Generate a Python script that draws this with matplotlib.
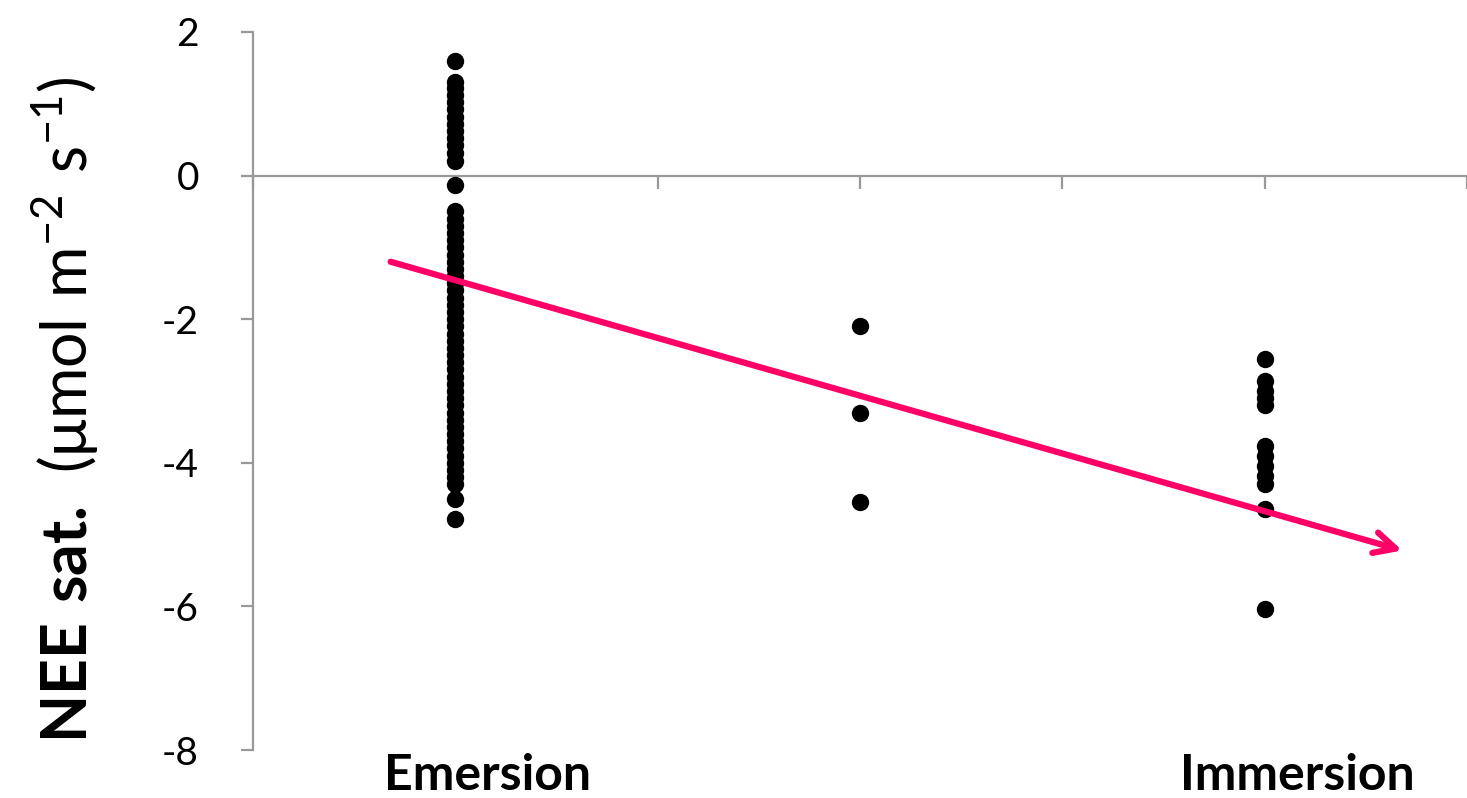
import matplotlib
matplotlib.use('Agg')
import matplotlib.pyplot as plt
import matplotlib.transforms as mtransforms

plt.rcParams['font.family'] = ['Lato', 'DejaVu Sans']
plt.rcParams['mathtext.fontset'] = 'custom'
plt.rcParams['mathtext.rm'] = 'Lato'
plt.rcParams['mathtext.bf'] = 'Lato:bold'

# NEE at saturating light, per tidal condition (x = 1 emersion, 2 mid, 3 immersion)
emersion = [1.6, 1.3, 1.22, 1.12, 1.02, 0.92, 0.82, 0.72, 0.62, 0.52, 0.42, 0.32, 0.2,
            -0.13, -0.5, -0.6, -0.7, -0.8, -0.9, -1.0, -1.1, -1.2, -1.3, -1.4, -1.5,
            -1.6, -1.7, -1.8, -1.9, -2.0, -2.1, -2.2, -2.3, -2.4, -2.5, -2.6, -2.7,
            -2.8, -2.9, -3.0, -3.1, -3.2, -3.3, -3.4, -3.5, -3.6, -3.7, -3.8, -3.9,
            -4.0, -4.1, -4.2, -4.3, -4.5, -4.78]
middle = [-2.1, -3.3, -4.55]
immersion = [-2.56, -2.86, -3.0, -3.1, -3.2, -3.76, -3.9, -4.05, -4.18, -4.3,
             -4.64, -6.03]
group_x = [1, 2, 3]
group_labels = ['Emersion', 'Immersion']
label_x = [1.08, 3.08]

# trend arrow, start and end in data units
arrow_start = (0.84, -1.2)
arrow_end = (3.34, -5.22)

fig = plt.figure(figsize=(14.67, 7.98), dpi=100)
ax = fig.add_axes([0.1725, 0.06, 0.8275, 0.9])

for xv, vals in zip(group_x, [emersion, middle, immersion]):
    ax.plot([xv] * len(vals), vals, 'o', color='black', ms=12.5, mec='none', zorder=3)

ax.annotate('', xy=arrow_end, xytext=arrow_start,
            arrowprops=dict(arrowstyle='->', color='#FF0066', lw=4.5,
                            mutation_scale=38, shrinkA=0, shrinkB=0),
            zorder=4)

ax.set_xlim(0.5, 3.5)
ax.set_ylim(-8, 2)
ax.set_yticks([2, 0, -2, -4, -6, -8])
ax.set_yticklabels(['2', '0', '-2', '-4', '-6', '-8'], fontsize=28)
ax.set_xticks([0.5, 1, 1.5, 2, 2.5, 3, 3.5])
ax.set_xticklabels([])

grey = '#999999'
ax.spines['top'].set_visible(False)
ax.spines['right'].set_visible(False)
ax.spines['bottom'].set_position(('data', 0))
ax.spines['bottom'].set_color(grey)
ax.spines['left'].set_color(grey)
ax.spines['bottom'].set_linewidth(1.6)
ax.spines['left'].set_linewidth(1.6)
ax.tick_params(axis='y', direction='out', length=9, width=1.6, color=grey, pad=30)
ax.tick_params(axis='x', direction='out', length=9, width=1.6, color=grey)

trans = mtransforms.blended_transform_factory(ax.transData, fig.transFigure)
for xv, lab in zip(label_x, group_labels):
    ax.text(xv, 0.01, lab, transform=trans, ha='center', va='baseline',
            fontsize=36, fontweight='bold')

fig.text(0.044, 0.486, r'$\mathbf{NEE\ sat.}\ \mathrm{(\mu mol\ m^{-2}\ s^{-1})}$',
         rotation=90, ha='center', va='center', fontsize=45)

fig.savefig('out.png', dpi=100)
